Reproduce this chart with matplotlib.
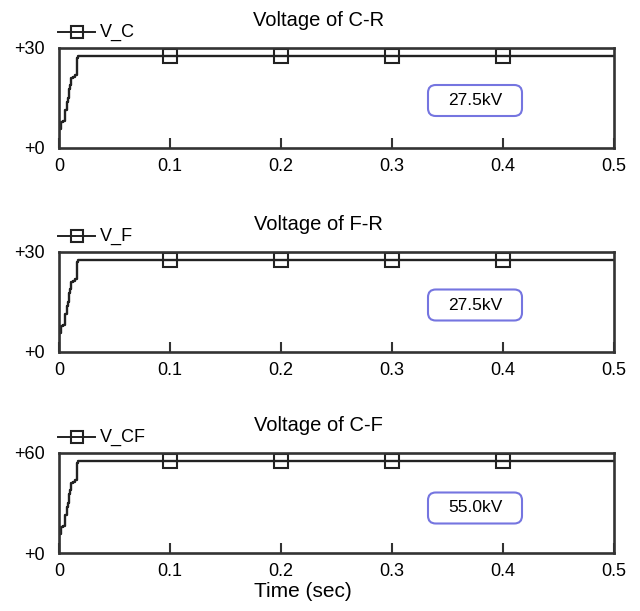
import matplotlib
matplotlib.use("Agg")
import matplotlib.pyplot as plt
from matplotlib.patches import FancyBboxPatch

# ---- data ----
titles = ["Voltage of C-R", "Voltage of F-R", "Voltage of C-F"]
legend_labels = ["V_C", "V_F", "V_CF"]
y_max = [30, 30, 60]
ytick_labels = [["+0", "+30"], ["+0", "+30"], ["+0", "+60"]]
annotations = ["27.5kV", "27.5kV", "55.0kV"]
steady = [27.5, 27.5, 55.0]

# step-like rise (time in s, fraction of steady value)
t_rise = [0.0, 0.0, 0.0015, 0.002, 0.0035, 0.005, 0.0055, 0.007, 0.008, 0.009,
          0.0095, 0.0105, 0.011, 0.013, 0.014, 0.016, 0.017, 0.5]
frac_rise = [0.0, 0.21, 0.22, 0.28, 0.29, 0.30, 0.42, 0.50, 0.55, 0.64,
             0.69, 0.73, 0.76, 0.78, 0.80, 0.98, 1.0, 1.0]
marker_t = [0.1, 0.2, 0.3, 0.4]
xticks = [0, 0.1, 0.2, 0.3, 0.4, 0.5]
xtick_labels = ["0", "0.1", "0.2", "0.3", "0.4", "0.5"]

W, H = 640, 611
fig = plt.figure(figsize=(W / 100, H / 100), dpi=100)
plt.rcParams['font.family'] = ['Liberation Sans', 'DejaVu Sans']

left, right = 59, 614
tops = [48, 252, 453]
ph = 100
aw = right - left
line_col = "#222222"
spine_col = "#333333"
box_col = "#7575e0"
box_yc = [0.475, 0.47, 0.45]

for i in range(3):
    top = tops[i]
    ax = fig.add_axes([left / W, 1 - (top + ph) / H, aw / W, ph / H])
    v = [f * steady[i] for f in frac_rise]
    ax.step(t_rise, v, where="post", color=line_col, lw=1.7)
    mv = [steady[i]] * len(marker_t)
    ax.plot(marker_t, mv, ls="none", marker="s", ms=10.5, mfc="none",
            mec=line_col, mew=1.5)
    ax.set_xlim(0, 0.5)
    ax.set_ylim(0, y_max[i])
    for s in ax.spines.values():
        s.set_color(spine_col)
        s.set_linewidth(1.9)
    ax.set_xticks(xticks)
    ax.set_xticklabels(xtick_labels)
    ax.set_yticks([0, y_max[i]])
    ax.set_yticklabels(ytick_labels[i])
    ax.tick_params(axis="x", direction="in", length=7, width=1.5,
                   color=spine_col, labelsize=13, pad=7.5)
    ax.tick_params(axis="y", length=0, labelsize=13, pad=10)
    ax.text(0.468, 1.22, titles[i], transform=ax.transAxes, ha="center",
            va="baseline", fontsize=14.5)
    # legend
    ax.plot([-0.002, 0.065], [1.16, 1.16], transform=ax.transAxes,
            color=line_col, lw=1.4, clip_on=False)
    ax.plot([0.032], [1.16], transform=ax.transAxes, ls="none", marker="s",
            ms=8.5, mfc="none", mec=line_col, mew=1.5, clip_on=False)
    ax.text(0.074, 1.16, legend_labels[i], transform=ax.transAxes,
            ha="left", va="center", fontsize=13)
    # value box
    bw, bh = 94 / aw, 0.31
    bx0 = (475 - left) / aw - bw / 2
    by0 = box_yc[i] - bh / 2
    ax.add_patch(FancyBboxPatch((bx0, by0), bw, bh, transform=ax.transAxes,
                                boxstyle="round,pad=0,rounding_size=0.014",
                                mutation_aspect=aw / ph, fc="white",
                                ec=box_col, lw=1.5, clip_on=False))
    ax.text(bx0 + bw / 2, box_yc[i], annotations[i], transform=ax.transAxes,
            ha="center", va="center", fontsize=12.5)
    if i == 2:
        ax.text((303 - left) / aw, -0.44, "Time (sec)", transform=ax.transAxes,
                ha="center", va="baseline", fontsize=15)

fig.savefig("out.png", dpi=100)
